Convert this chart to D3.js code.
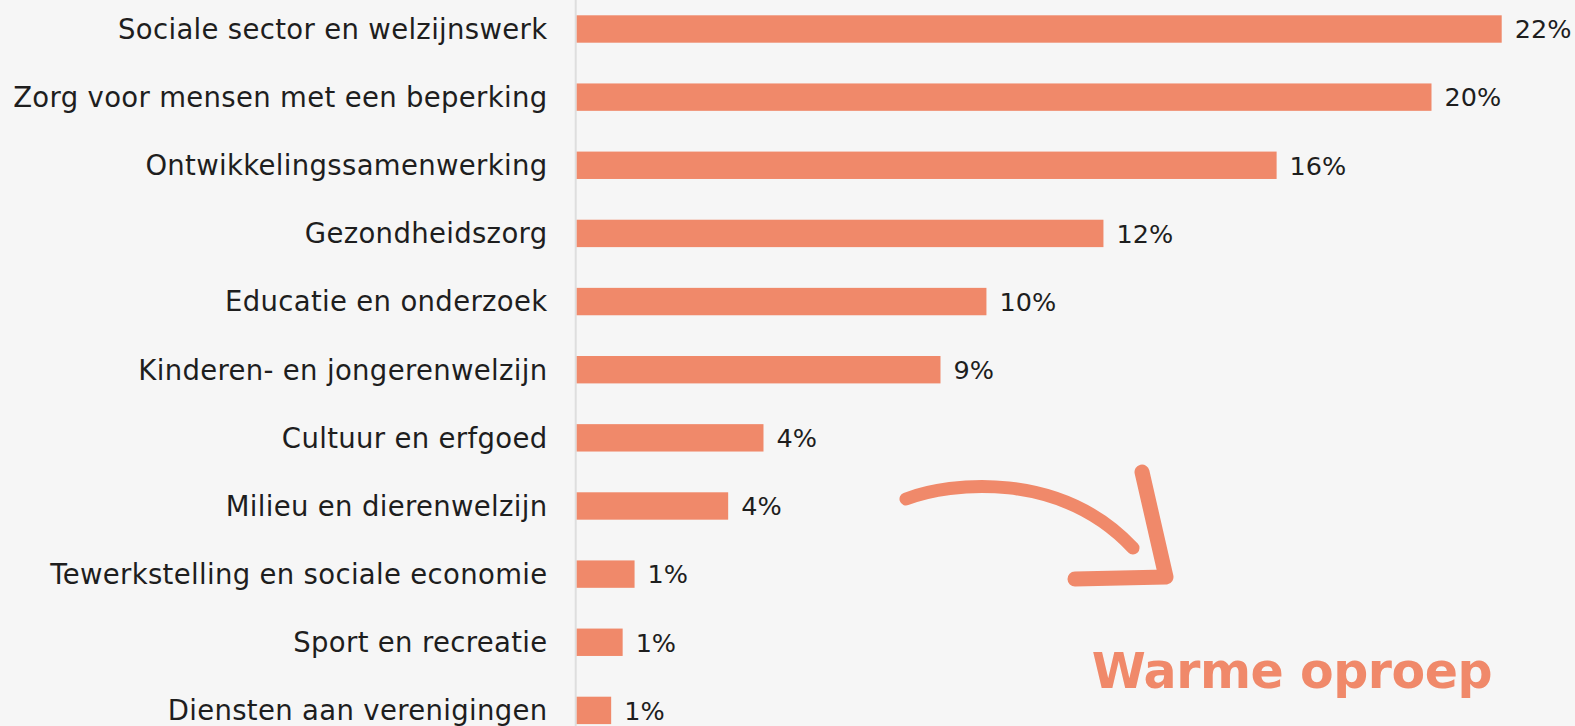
<!DOCTYPE html>
<html>
<head>
<meta charset="utf-8">
<script src="https://cdn.jsdelivr.net/npm/d3@7"></script>
<style>
  html, body { margin: 0; padding: 0; background: #f6f6f6; }
  svg { display: block; }
</style>
</head>
<body>
<svg id="chart" width="1575" height="726"></svg>
<script>
// ---- data ----
const categories = [
  "Sociale sector en welzijnswerk",
  "Zorg voor mensen met een beperking",
  "Ontwikkelingssamenwerking",
  "Gezondheidszorg",
  "Educatie en onderzoek",
  "Kinderen- en jongerenwelzijn",
  "Cultuur en erfgoed",
  "Milieu en dierenwelzijn",
  "Tewerkstelling en sociale economie",
  "Sport en recreatie",
  "Diensten aan verenigingen"
];
const values = [21.74, 20.09, 16.45, 12.38, 9.63, 8.55, 4.39, 3.56, 1.36, 1.08, 0.81];
const annotationText = "Warme oproep";

// ---- style ----
const W = 1575, H = 726;
const barColor = "#f0896a";
const textColor = "#1e1e1e";
const fontFamily = "'DejaVu Sans', sans-serif";

const svg = d3.select("#chart");
svg.append("rect").attr("width", W).attr("height", H).attr("fill", "#f6f6f6");

const x = d3.scaleLinear().domain([0, d3.max(values)]).range([576.7, 1501.7]);
const y = d3.scaleBand().domain(categories).range([-5.07, 744.47])
  .paddingInner(0.598).paddingOuter(0.299);

// axis line
svg.append("line")
  .attr("x1", 575.7).attr("x2", 575.7).attr("y1", 0).attr("y2", H)
  .attr("stroke", "#dedede").attr("stroke-width", 2);

const data = categories.map((c, i) => ({ c, v: values[i] }));

svg.selectAll("rect.bar").data(data).join("rect")
  .attr("class", "bar")
  .attr("x", x(0))
  .attr("y", d => y(d.c))
  .attr("width", d => x(d.v) - x(0))
  .attr("height", y.bandwidth())
  .attr("fill", barColor);

// category labels
const fs = 27.5;
const catLabels = svg.selectAll("text.cat").data(data).join("text")
  .attr("class", "cat")
  .attr("x", 547.5)
  .attr("y", d => y(d.c) + y.bandwidth() / 2 + 9.8)
  .attr("text-anchor", "end")
  .attr("font-family", fontFamily)
  .attr("font-size", fs)
  .attr("fill", textColor)
  .text(d => d.c);

// fit letter spacing so the longest label matches the reference width
const longest = catLabels.filter(d => d.c === "Zorg voor mensen met een beperking").node();
const wL = longest.getComputedTextLength();
const ls = (534 - wL) / (longest.textContent.length - 1);
catLabels.attr("letter-spacing", ls);

// value labels
svg.selectAll("text.val").data(data).join("text")
  .attr("class", "val")
  .attr("x", d => x(d.v) + 13)
  .attr("y", d => y(d.c) + y.bandwidth() / 2 + 9.3)
  .attr("font-family", fontFamily)
  .attr("font-size", 25.5)
  .attr("fill", textColor)
  .text(d => Math.round(d.v) + "%");

// arrow annotation
const arrow = svg.append("g")
  .attr("fill", "none").attr("stroke", barColor)
  .attr("stroke-linecap", "round").attr("stroke-linejoin", "round");
arrow.append("path")
  .attr("d", "M906,499 C950,482 1060,470 1133,548")
  .attr("stroke-width", 13);
arrow.append("path")
  .attr("d", "M1142,472 L1166,577 L1075,579")
  .attr("stroke-width", 15);

// annotation text
const ann = svg.append("text")
  .attr("x", 1091.7)
  .attr("y", 688.3)
  .attr("font-family", fontFamily)
  .attr("font-weight", "bold")
  .attr("font-size", 49)
  .attr("fill", barColor)
  .text(annotationText);
const wA = ann.node().getComputedTextLength();
ann.attr("letter-spacing", (401 - wA) / (annotationText.length - 1));
</script>
</body>
</html>
